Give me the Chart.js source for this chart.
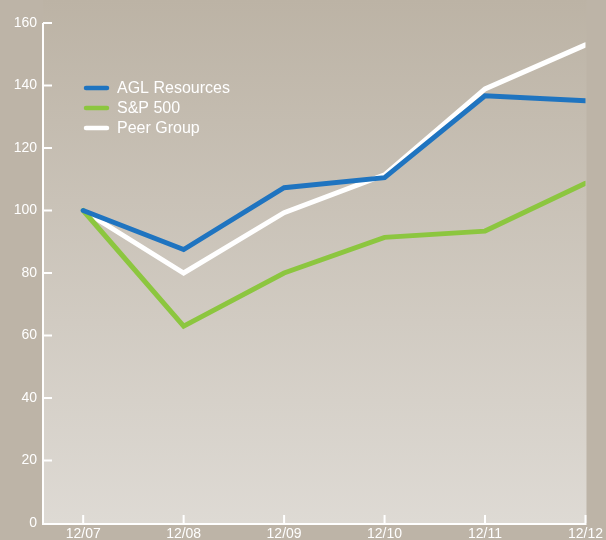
<!DOCTYPE html>
<html>
<head>
<meta charset="utf-8">
<script src="https://cdn.jsdelivr.net/npm/chart.js@4"></script>
<style>
  html, body { margin: 0; padding: 0; background: #bdb4a7; }
  #wrap { width: 606px; height: 540px; position: relative; }
</style>
</head>
<body>
<div id="wrap"><canvas id="c" width="606" height="540"></canvas></div>
<script>
const categories = ["12/07", "12/08", "12/09", "12/10", "12/11", "12/12"];
const aglValues  = [100, 87.5, 107.3, 110.5, 136.7, 135.1];
const spValues   = [100, 63.0, 80.0, 91.4, 93.4, 108.7];
const peerValues = [100, 80.0, 99.3, 111.4, 138.9, 153.0];
const yTicks     = [0, 20, 40, 60, 80, 100, 120, 140, 160];
const seriesNames  = ["AGL Resources", "S&P 500", "Peer Group"];
const seriesColors = ["#1f74c0", "#8cc63f", "#ffffff"];

function pts(vals) { return vals.map((v, i) => ({ x: i, y: v })); }

const bgPlugin = {
  id: 'bg',
  beforeDraw(chart) {
    const { ctx, chartArea: a } = chart;
    ctx.save();
    ctx.fillStyle = '#bdb4a7';
    ctx.fillRect(0, 0, chart.width, chart.height);
    const g = ctx.createLinearGradient(0, 0, 0, a.bottom);
    g.addColorStop(0, '#bcb3a5');
    g.addColorStop(1, '#dedad4');
    ctx.fillStyle = g;
    ctx.fillRect(a.left, 0, a.right - a.left + 1, a.bottom);
    ctx.restore();
  }
};

const axisPlugin = {
  id: 'axes',
  beforeDatasetsDraw(chart) {
    const { ctx, chartArea: a, scales } = chart;
    const xs = scales.x, ys = scales.y;
    ctx.save();
    ctx.strokeStyle = '#ffffff';
    ctx.lineWidth = 2;
    ctx.lineCap = 'butt';
    ctx.beginPath();
    ctx.moveTo(a.left, ys.getPixelForValue(160));
    ctx.lineTo(a.left, a.bottom + 1);
    ctx.lineTo(a.right + 1, a.bottom + 1);
    ctx.stroke();
    ctx.beginPath();
    yTicks.forEach(v => {
      if (v === 0) return;
      const y = ys.getPixelForValue(v);
      ctx.moveTo(a.left, y);
      ctx.lineTo(a.left + 9, y);
    });
    categories.forEach((c, i) => {
      const x = xs.getPixelForValue(i);
      ctx.moveTo(x, a.bottom);
      ctx.lineTo(x, a.bottom - 8);
    });
    ctx.stroke();
    ctx.restore();
  }
};

const legendPlugin = {
  id: 'customLegend',
  afterDraw(chart) {
    const { ctx } = chart;
    ctx.save();
    ctx.font = '16px "Liberation Sans", Arial, sans-serif';
    ctx.textBaseline = 'middle';
    seriesNames.forEach((n, i) => {
      const y = 88 + i * 20;
      ctx.strokeStyle = seriesColors[i];
      ctx.lineWidth = 4.5;
      ctx.lineCap = 'round';
      ctx.beginPath();
      ctx.moveTo(86, y);
      ctx.lineTo(107, y);
      ctx.stroke();
      ctx.fillStyle = '#ffffff';
      ctx.fillText(n, 117, y + 1);
    });
    ctx.restore();
  }
};

new Chart(document.getElementById('c'), {
  type: 'line',
  data: {
    datasets: [
      { label: seriesNames[0], data: pts(aglValues),  borderColor: seriesColors[0] },
      { label: seriesNames[1], data: pts(spValues),   borderColor: seriesColors[1] },
      { label: seriesNames[2], data: pts(peerValues), borderColor: seriesColors[2] }
    ]
  },
  options: {
    responsive: false,
    animation: false,
    devicePixelRatio: 1,
    layout: { padding: { top: 23, right: 18, left: 0, bottom: 0 } },
    elements: {
      line: { borderWidth: 5, tension: 0, borderCapStyle: 'round', borderJoinStyle: 'miter', fill: false },
      point: { radius: 0, hoverRadius: 0 }
    },
    plugins: { legend: { display: false }, tooltip: { enabled: false } },
    scales: {
      x: {
        type: 'linear',
        min: -0.4,
        max: 5,
        afterBuildTicks(s) { s.ticks = categories.map((c, i) => ({ value: i })); },
        afterFit(s) { s.height = 17; },
        grid: { display: false, drawTicks: false },
        border: { display: false },
        ticks: {
          color: '#ffffff',
          font: { family: '"Liberation Sans", Arial, sans-serif', size: 14 },
          padding: 3,
          maxRotation: 0,
          autoSkip: false,
          callback: v => categories[v]
        }
      },
      y: {
        min: 0,
        max: 160,
        afterBuildTicks(s) { s.ticks = yTicks.map(v => ({ value: v })); },
        afterFit(s) { s.width = 43; },
        grid: { display: false, drawTicks: false },
        border: { display: false },
        ticks: {
          color: '#ffffff',
          font: { family: '"Liberation Sans", Arial, sans-serif', size: 14 },
          padding: 6
        }
      }
    }
  },
  plugins: [bgPlugin, axisPlugin, legendPlugin]
});
</script>
</body>
</html>
